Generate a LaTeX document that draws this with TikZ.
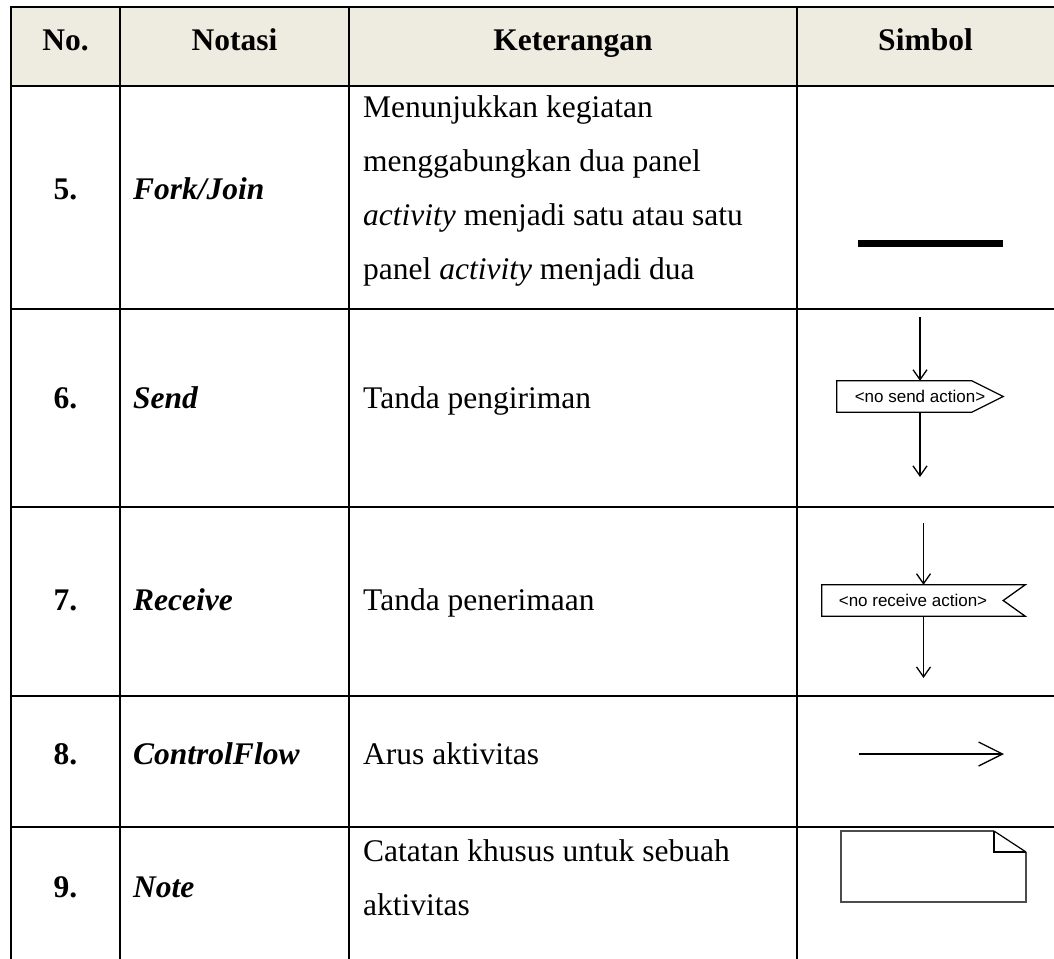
\documentclass[tikz,border=0pt]{standalone}
\usepackage{fontspec}
\setmainfont{Liberation Serif}
\newfontfamily\umlfont{Liberation Sans}
\usetikzlibrary{arrows.meta,calc}
\definecolor{headfill}{HTML}{EEECE1}
\begin{document}
\begin{tikzpicture}[x=1pt,y=-1pt,
  grid/.style={line width=2.6pt,line cap=rect},
  body/.style={anchor=base west,inner sep=0pt,font=\fontsize{31.5}{38}\selectfont},
  num/.style={anchor=base,inner sep=0pt,font=\fontsize{31.5}{38}\selectfont\bfseries},
  nota/.style={anchor=base west,inner sep=0pt,font=\fontsize{31.5}{38}\selectfont\bfseries\itshape},
  head/.style={anchor=base,inner sep=0pt,font=\fontsize{31.5}{38}\selectfont\bfseries},
  uml/.style={line width=1.3pt},
  flow/.style={uml,-{Straight Barb[length=10pt,width=14pt]}},
  umltext/.style={inner sep=0pt,font=\umlfont\fontsize{17}{20}\selectfont},
  boxnode/.style={inner sep=0pt,draw=none}
]
\useasboundingbox (0,0) rectangle (1054,958);
% header fill
\fill[headfill] (11,7) rectangle (1054,86);
% grid
\foreach \yy in {7,86,309,507,696,827} \draw[grid] (11,\yy) -- (1054,\yy);
\foreach \xx in {11,120,349,797} \draw[grid] (\xx,7) -- (\xx,958);
% header
\node[head] (hno) at (65.5,51) {No.};
\node[head] (hnot) at (234.5,51) {Notasi};
\node[head] (hket) at (573,51) {Keterangan};
\node[head] (hsim) at (925.5,51) {Simbol};
% row 5
\node[num] (n5) at (65.5,199) {5.};
\node[nota] (t5) at (133,199) {Fork/Join};
\node[body] (k5a) at (363,117) {Menunjukkan kegiatan};
\node[body] (k5b) at (363,171) {menggabungkan dua panel};
\node[body] (k5c) at (363,225) {\textit{activity} menjadi satu atau satu};
\node[body] (k5d) at (363,279) {panel \textit{activity} menjadi dua};
\node[boxnode,fill=black,minimum width=145pt,minimum height=7pt] (fork) at (930.5,243) {};
% row 6
\node[num] (n6) at (65.5,408) {6.};
\node[nota] (t6) at (133,408) {Send};
\node[body] (k6) at (363,408) {Tanda pengiriman};
\node[boxnode,umltext,minimum width=166pt,minimum height=31pt] (sendbox) at (920,396.5) {<no send action>};
\draw[uml,line join=miter] (sendbox.north west) -- ($(sendbox.north west)+(135,0)$) -- (sendbox.east)
  -- ($(sendbox.south west)+(135,0)$) -- (sendbox.south west) -- cycle;
\coordinate (s0) at (920,317);
\coordinate (s1) at (920,477);
\draw[flow] (s0) -- (sendbox.north);
\draw[flow] (sendbox.south) -- (s1);
% row 7
\node[num] (n7) at (65.5,610) {7.};
\node[nota] (t7) at (133,610) {Receive};
\node[body] (k7) at (363,610) {Tanda penerimaan};
\node[boxnode,minimum width=203pt,minimum height=31pt] (recvbox) at (923.5,600.5) {};
\draw[uml,line join=miter] (recvbox.north west) -- (recvbox.north east) -- ($(recvbox.east)+(-22,0)$)
  -- (recvbox.south east) -- (recvbox.south west) -- cycle;
\node[umltext] (recvtext) at (913,600.5) {<no receive action>};
\coordinate (r0) at (923.5,523);
\coordinate (r1) at (923.5,678);
\draw[flow] (r0) -- (recvbox.north);
\draw[flow] (recvbox.south) -- (r1);
% row 8
\node[num] (n8) at (65.5,764) {8.};
\node[nota] (t8) at (133,764) {ControlFlow};
\node[body] (k8) at (363,764) {Arus aktivitas};
\coordinate (c0) at (859,754);
\coordinate (c1) at (1004,754);
\draw[uml,-{Straight Barb[length=24pt,width=24pt]}] (c0) -- (c1);
% row 9
\node[num] (n9) at (65.5,897) {9.};
\node[nota] (t9) at (133,897) {Note};
\node[body] (k9a) at (363,861) {Catatan khusus untuk sebuah};
\node[body] (k9b) at (363,915) {aktivitas};
\draw[line width=1.2pt,black!70] (994,831) -- (841,831) -- (841,902) -- (1026,902) -- (1026,852);
\draw[line width=1.2pt] (994,831) -- (1026,852);
\draw[line width=1.8pt,line join=miter] (994,831) -- (994,852) -- (1026,852);
\end{tikzpicture}
\end{document}
